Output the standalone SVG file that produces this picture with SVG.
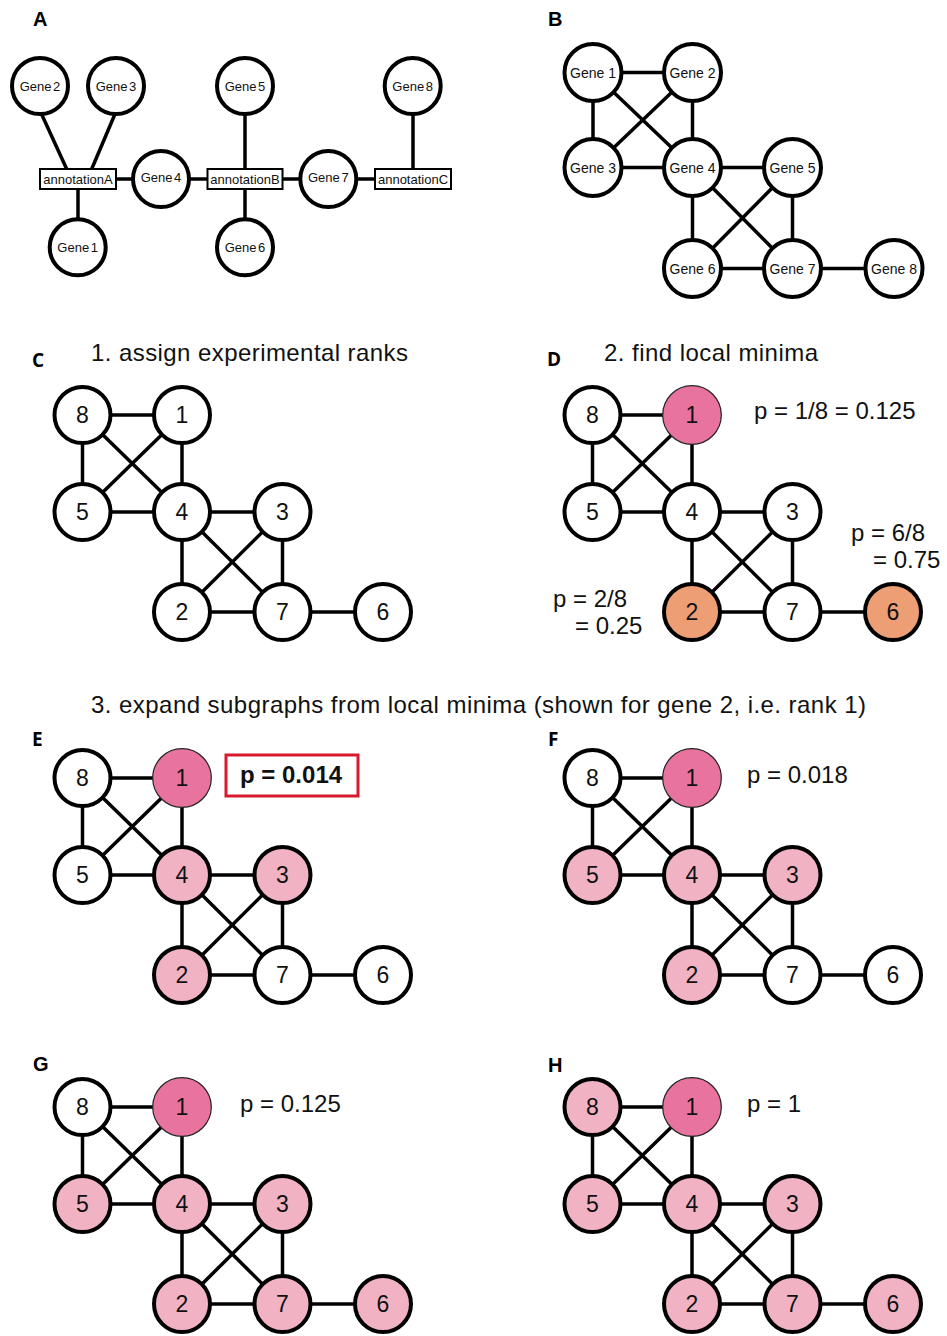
<svg xmlns="http://www.w3.org/2000/svg" width="947" height="1336" viewBox="0 0 947 1336">
<style>
.bg{fill:#fff}
.e{stroke:#000;stroke-width:3.5;fill:none}
.ea{stroke:#000;stroke-width:3.5;fill:none}
.n circle{stroke:#000;stroke-width:4;fill:#fff}
.n.lp circle{fill:#F1B3C4}
.n.or circle{fill:#ED9E75}
.n.dk circle{fill:#E8739E;stroke:#222;stroke-width:1.2}
.num{font-family:"Liberation Sans",Arial,sans-serif;font-size:23px;text-anchor:middle;fill:#111}
.ga{font-family:"Liberation Sans",Arial,sans-serif;font-size:13px;text-anchor:middle;word-spacing:-2px;fill:#111}
.gb{font-family:"Liberation Sans",Arial,sans-serif;font-size:14px;text-anchor:middle;fill:#111}
.ann rect{fill:#fff;stroke:#000;stroke-width:2}
.ann text{font-family:"Liberation Sans",Arial,sans-serif;font-size:13px;text-anchor:middle;fill:#111}
.title{font-family:"Liberation Sans",Arial,sans-serif;font-size:24px;fill:#111}
.p{font-family:"Liberation Sans",Arial,sans-serif;font-size:24px;fill:#111}
.pb{font-family:"Liberation Sans",Arial,sans-serif;font-size:24px;font-weight:bold;fill:#111}
.lab1{font-family:"Liberation Sans",Arial,sans-serif;font-size:20px;font-weight:bold;fill:#000}
.lab2{font-family:"Open Sans","Liberation Sans",sans-serif;font-size:19px;font-weight:bold;fill:#000}
</style>
<rect class="bg" x="0" y="0" width="947" height="1336"/>

<!-- Panel labels -->
<g id="labels">
<text class="lab1" x="33" y="26">A</text>
<text class="lab1" x="548" y="26">B</text>
<text class="lab2" x="32" y="367">C</text>
<text class="lab2" x="547" y="366">D</text>
<text class="lab2" x="32" y="746">E</text>
<text class="lab2" x="548" y="746">F</text>
<text class="lab1" x="33" y="1071">G</text>
<text class="lab1" x="548" y="1072">H</text>
</g>

<!-- Titles -->
<g id="titles">
<text class="title" x="91" y="361" textLength="317" lengthAdjust="spacing">1. assign experimental ranks</text>
<text class="title" x="604" y="361" textLength="214" lengthAdjust="spacing">2. find local minima</text>
<text class="title" x="91" y="713" textLength="775" lengthAdjust="spacing">3. expand subgraphs from local minima (shown for gene 2, i.e. rank 1)</text>
</g>

<!-- Panel A -->
<g id="panel-A">
<g id="A-connectors">
<line class="ea" x1="41.5" y1="114" x2="66.7" y2="169"/>
<line class="ea" x1="115" y1="114" x2="91.7" y2="169"/>
<line class="ea" x1="78" y1="189" x2="78" y2="221"/>
<line class="ea" x1="116" y1="179" x2="135" y2="179"/>
<line class="ea" x1="187" y1="179" x2="207.5" y2="179"/>
<line class="ea" x1="245" y1="112" x2="245" y2="169"/>
<line class="ea" x1="245" y1="189" x2="245" y2="221"/>
<line class="ea" x1="282.5" y1="179" x2="302" y2="179"/>
<line class="ea" x1="354" y1="179" x2="375" y2="179"/>
<line class="ea" x1="413" y1="112" x2="413" y2="169"/>
</g>
<g id="A-gene2" class="n" transform="translate(40,86)"><circle r="28"/><text class="ga" y="4.5">Gene 2</text></g>
<g id="A-gene3" class="n" transform="translate(116,86)"><circle r="28"/><text class="ga" y="4.5">Gene 3</text></g>
<g id="A-gene5" class="n" transform="translate(245,86)"><circle r="28"/><text class="ga" y="4.5">Gene 5</text></g>
<g id="A-gene8" class="n" transform="translate(412.7,86)"><circle r="28"/><text class="ga" y="4.5">Gene 8</text></g>
<g id="A-gene4" class="n" transform="translate(161,179)"><circle r="28"/><text class="ga" y="2.5">Gene 4</text></g>
<g id="A-gene7" class="n" transform="translate(328.3,179)"><circle r="28"/><text class="ga" y="2.5">Gene 7</text></g>
<g id="A-gene1" class="n" transform="translate(77.7,247.3)"><circle r="28"/><text class="ga" y="4.5">Gene 1</text></g>
<g id="A-gene6" class="n" transform="translate(245,247.3)"><circle r="28"/><text class="ga" y="4.5">Gene 6</text></g>
<g id="A-annotationA" class="ann"><rect x="40" y="169" width="76" height="20"/><text x="78" y="183.5">annotationA</text></g>
<g id="A-annotationB" class="ann"><rect x="207.5" y="169" width="75" height="20"/><text x="245" y="183.5">annotationB</text></g>
<g id="A-annotationC" class="ann"><rect x="375" y="169" width="76" height="20"/><text x="413" y="183.5">annotationC</text></g>
</g>

<!-- Panel B -->
<g id="panel-B">
<g id="B-connectors">
<line class="e" x1="593" y1="72.5" x2="692.5" y2="72.5"/>
<line class="e" x1="593" y1="72.5" x2="593" y2="167.5"/>
<line class="e" x1="593" y1="72.5" x2="692.5" y2="167.5"/>
<line class="e" x1="692.5" y1="72.5" x2="593" y2="167.5"/>
<line class="e" x1="692.5" y1="72.5" x2="692.5" y2="167.5"/>
<line class="e" x1="593" y1="167.5" x2="692.5" y2="167.5"/>
<line class="e" x1="692.5" y1="167.5" x2="792.5" y2="167.5"/>
<line class="e" x1="692.5" y1="167.5" x2="692.5" y2="268.5"/>
<line class="e" x1="692.5" y1="167.5" x2="792.5" y2="268.5"/>
<line class="e" x1="792.5" y1="167.5" x2="692.5" y2="268.5"/>
<line class="e" x1="792.5" y1="167.5" x2="792.5" y2="268.5"/>
<line class="e" x1="692.5" y1="268.5" x2="792.5" y2="268.5"/>
<line class="e" x1="792.5" y1="268.5" x2="894" y2="268.5"/>
</g>
<g id="B-gene1" class="n" transform="translate(593,72.5)"><circle r="28.5"/><text class="gb" y="5">Gene 1</text></g>
<g id="B-gene2" class="n" transform="translate(692.5,72.5)"><circle r="28.5"/><text class="gb" y="5">Gene 2</text></g>
<g id="B-gene3" class="n" transform="translate(593,167.5)"><circle r="28.5"/><text class="gb" y="5">Gene 3</text></g>
<g id="B-gene4" class="n" transform="translate(692.5,167.5)"><circle r="28.5"/><text class="gb" y="5">Gene 4</text></g>
<g id="B-gene5" class="n" transform="translate(792.5,167.5)"><circle r="28.5"/><text class="gb" y="5">Gene 5</text></g>
<g id="B-gene6" class="n" transform="translate(692.5,268.5)"><circle r="28.5"/><text class="gb" y="5">Gene 6</text></g>
<g id="B-gene7" class="n" transform="translate(792.5,268.5)"><circle r="28.5"/><text class="gb" y="5">Gene 7</text></g>
<g id="B-gene8" class="n" transform="translate(894,268.5)"><circle r="28.5"/><text class="gb" y="5">Gene 8</text></g>
</g>

<!-- Panel C -->
<g id="panel-C">
<g id="C-connectors" transform="translate(82.5,415)">
<line class="e" x1="0" y1="0" x2="99.5" y2="0"/><line class="e" x1="0" y1="0" x2="0" y2="97"/><line class="e" x1="0" y1="0" x2="99.5" y2="97"/><line class="e" x1="99.5" y1="0" x2="0" y2="97"/><line class="e" x1="99.5" y1="0" x2="99.5" y2="97"/><line class="e" x1="0" y1="97" x2="99.5" y2="97"/><line class="e" x1="99.5" y1="97" x2="200" y2="97"/><line class="e" x1="99.5" y1="97" x2="99.5" y2="197"/><line class="e" x1="99.5" y1="97" x2="200" y2="197"/><line class="e" x1="200" y1="97" x2="99.5" y2="197"/><line class="e" x1="200" y1="97" x2="200" y2="197"/><line class="e" x1="99.5" y1="197" x2="200" y2="197"/><line class="e" x1="200" y1="197" x2="300.5" y2="197"/>
</g>
<g id="C-n8" class="n" transform="translate(82.5,415)"><circle r="28"/><text class="num" y="8">8</text></g>
<g id="C-n1" class="n" transform="translate(182,415)"><circle r="28"/><text class="num" y="8">1</text></g>
<g id="C-n5" class="n" transform="translate(82.5,512)"><circle r="28"/><text class="num" y="8">5</text></g>
<g id="C-n4" class="n" transform="translate(182,512)"><circle r="28"/><text class="num" y="8">4</text></g>
<g id="C-n3" class="n" transform="translate(282.5,512)"><circle r="28"/><text class="num" y="8">3</text></g>
<g id="C-n2" class="n" transform="translate(182,612)"><circle r="28"/><text class="num" y="8">2</text></g>
<g id="C-n7" class="n" transform="translate(282.5,612)"><circle r="28"/><text class="num" y="8">7</text></g>
<g id="C-n6" class="n" transform="translate(383,612)"><circle r="28"/><text class="num" y="8">6</text></g>
</g>

<!-- Panel D -->
<g id="panel-D">
<g id="D-connectors" transform="translate(592.5,415)">
<line class="e" x1="0" y1="0" x2="99.5" y2="0"/><line class="e" x1="0" y1="0" x2="0" y2="97"/><line class="e" x1="0" y1="0" x2="99.5" y2="97"/><line class="e" x1="99.5" y1="0" x2="0" y2="97"/><line class="e" x1="99.5" y1="0" x2="99.5" y2="97"/><line class="e" x1="0" y1="97" x2="99.5" y2="97"/><line class="e" x1="99.5" y1="97" x2="200" y2="97"/><line class="e" x1="99.5" y1="97" x2="99.5" y2="197"/><line class="e" x1="99.5" y1="97" x2="200" y2="197"/><line class="e" x1="200" y1="97" x2="99.5" y2="197"/><line class="e" x1="200" y1="97" x2="200" y2="197"/><line class="e" x1="99.5" y1="197" x2="200" y2="197"/><line class="e" x1="200" y1="197" x2="300.5" y2="197"/>
</g>
<g id="D-n8" class="n" transform="translate(592.5,415)"><circle r="28"/><text class="num" y="8">8</text></g>
<g id="D-n1" class="n dk" transform="translate(692,415)"><circle r="29.3"/><text class="num" y="8">1</text></g>
<g id="D-n5" class="n" transform="translate(592.5,512)"><circle r="28"/><text class="num" y="8">5</text></g>
<g id="D-n4" class="n" transform="translate(692,512)"><circle r="28"/><text class="num" y="8">4</text></g>
<g id="D-n3" class="n" transform="translate(792.5,512)"><circle r="28"/><text class="num" y="8">3</text></g>
<g id="D-n2" class="n or" transform="translate(692,612)"><circle r="28"/><text class="num" y="8">2</text></g>
<g id="D-n7" class="n" transform="translate(792.5,612)"><circle r="28"/><text class="num" y="8">7</text></g>
<g id="D-n6" class="n or" transform="translate(893,612)"><circle r="28"/><text class="num" y="8">6</text></g>
<text class="p" x="754" y="419">p = 1/8 = 0.125</text>
<text class="p" x="851" y="541">p = 6/8</text>
<text class="p" x="873" y="568">= 0.75</text>
<text class="p" x="553" y="607">p = 2/8</text>
<text class="p" x="575" y="634">= 0.25</text>
</g>

<!-- Panel E -->
<g id="panel-E">
<g id="E-connectors" transform="translate(82.5,778)">
<line class="e" x1="0" y1="0" x2="99.5" y2="0"/><line class="e" x1="0" y1="0" x2="0" y2="97"/><line class="e" x1="0" y1="0" x2="99.5" y2="97"/><line class="e" x1="99.5" y1="0" x2="0" y2="97"/><line class="e" x1="99.5" y1="0" x2="99.5" y2="97"/><line class="e" x1="0" y1="97" x2="99.5" y2="97"/><line class="e" x1="99.5" y1="97" x2="200" y2="97"/><line class="e" x1="99.5" y1="97" x2="99.5" y2="197"/><line class="e" x1="99.5" y1="97" x2="200" y2="197"/><line class="e" x1="200" y1="97" x2="99.5" y2="197"/><line class="e" x1="200" y1="97" x2="200" y2="197"/><line class="e" x1="99.5" y1="197" x2="200" y2="197"/><line class="e" x1="200" y1="197" x2="300.5" y2="197"/>
</g>
<g id="E-n8" class="n" transform="translate(82.5,778)"><circle r="28"/><text class="num" y="8">8</text></g>
<g id="E-n1" class="n dk" transform="translate(182,778)"><circle r="29.3"/><text class="num" y="8">1</text></g>
<g id="E-n5" class="n" transform="translate(82.5,875)"><circle r="28"/><text class="num" y="8">5</text></g>
<g id="E-n4" class="n lp" transform="translate(182,875)"><circle r="28"/><text class="num" y="8">4</text></g>
<g id="E-n3" class="n lp" transform="translate(282.5,875)"><circle r="28"/><text class="num" y="8">3</text></g>
<g id="E-n2" class="n lp" transform="translate(182,975)"><circle r="28"/><text class="num" y="8">2</text></g>
<g id="E-n7" class="n" transform="translate(282.5,975)"><circle r="28"/><text class="num" y="8">7</text></g>
<g id="E-n6" class="n" transform="translate(383,975)"><circle r="28"/><text class="num" y="8">6</text></g>
<rect x="226" y="755" width="132" height="41" fill="#fff" stroke="#D8192E" stroke-width="3"/>
<text class="pb" x="240" y="783">p = 0.014</text>
</g>

<!-- Panel F -->
<g id="panel-F">
<g id="F-connectors" transform="translate(592.5,778)">
<line class="e" x1="0" y1="0" x2="99.5" y2="0"/><line class="e" x1="0" y1="0" x2="0" y2="97"/><line class="e" x1="0" y1="0" x2="99.5" y2="97"/><line class="e" x1="99.5" y1="0" x2="0" y2="97"/><line class="e" x1="99.5" y1="0" x2="99.5" y2="97"/><line class="e" x1="0" y1="97" x2="99.5" y2="97"/><line class="e" x1="99.5" y1="97" x2="200" y2="97"/><line class="e" x1="99.5" y1="97" x2="99.5" y2="197"/><line class="e" x1="99.5" y1="97" x2="200" y2="197"/><line class="e" x1="200" y1="97" x2="99.5" y2="197"/><line class="e" x1="200" y1="97" x2="200" y2="197"/><line class="e" x1="99.5" y1="197" x2="200" y2="197"/><line class="e" x1="200" y1="197" x2="300.5" y2="197"/>
</g>
<g id="F-n8" class="n" transform="translate(592.5,778)"><circle r="28"/><text class="num" y="8">8</text></g>
<g id="F-n1" class="n dk" transform="translate(692,778)"><circle r="29.3"/><text class="num" y="8">1</text></g>
<g id="F-n5" class="n lp" transform="translate(592.5,875)"><circle r="28"/><text class="num" y="8">5</text></g>
<g id="F-n4" class="n lp" transform="translate(692,875)"><circle r="28"/><text class="num" y="8">4</text></g>
<g id="F-n3" class="n lp" transform="translate(792.5,875)"><circle r="28"/><text class="num" y="8">3</text></g>
<g id="F-n2" class="n lp" transform="translate(692,975)"><circle r="28"/><text class="num" y="8">2</text></g>
<g id="F-n7" class="n" transform="translate(792.5,975)"><circle r="28"/><text class="num" y="8">7</text></g>
<g id="F-n6" class="n" transform="translate(893,975)"><circle r="28"/><text class="num" y="8">6</text></g>
<text class="p" x="747" y="783">p = 0.018</text>
</g>

<!-- Panel G -->
<g id="panel-G">
<g id="G-connectors" transform="translate(82.5,1107)">
<line class="e" x1="0" y1="0" x2="99.5" y2="0"/><line class="e" x1="0" y1="0" x2="0" y2="97"/><line class="e" x1="0" y1="0" x2="99.5" y2="97"/><line class="e" x1="99.5" y1="0" x2="0" y2="97"/><line class="e" x1="99.5" y1="0" x2="99.5" y2="97"/><line class="e" x1="0" y1="97" x2="99.5" y2="97"/><line class="e" x1="99.5" y1="97" x2="200" y2="97"/><line class="e" x1="99.5" y1="97" x2="99.5" y2="197"/><line class="e" x1="99.5" y1="97" x2="200" y2="197"/><line class="e" x1="200" y1="97" x2="99.5" y2="197"/><line class="e" x1="200" y1="97" x2="200" y2="197"/><line class="e" x1="99.5" y1="197" x2="200" y2="197"/><line class="e" x1="200" y1="197" x2="300.5" y2="197"/>
</g>
<g id="G-n8" class="n" transform="translate(82.5,1107)"><circle r="28"/><text class="num" y="8">8</text></g>
<g id="G-n1" class="n dk" transform="translate(182,1107)"><circle r="29.3"/><text class="num" y="8">1</text></g>
<g id="G-n5" class="n lp" transform="translate(82.5,1204)"><circle r="28"/><text class="num" y="8">5</text></g>
<g id="G-n4" class="n lp" transform="translate(182,1204)"><circle r="28"/><text class="num" y="8">4</text></g>
<g id="G-n3" class="n lp" transform="translate(282.5,1204)"><circle r="28"/><text class="num" y="8">3</text></g>
<g id="G-n2" class="n lp" transform="translate(182,1304)"><circle r="28"/><text class="num" y="8">2</text></g>
<g id="G-n7" class="n lp" transform="translate(282.5,1304)"><circle r="28"/><text class="num" y="8">7</text></g>
<g id="G-n6" class="n lp" transform="translate(383,1304)"><circle r="28"/><text class="num" y="8">6</text></g>
<text class="p" x="240" y="1112">p = 0.125</text>
</g>

<!-- Panel H -->
<g id="panel-H">
<g id="H-connectors" transform="translate(592.5,1107)">
<line class="e" x1="0" y1="0" x2="99.5" y2="0"/><line class="e" x1="0" y1="0" x2="0" y2="97"/><line class="e" x1="0" y1="0" x2="99.5" y2="97"/><line class="e" x1="99.5" y1="0" x2="0" y2="97"/><line class="e" x1="99.5" y1="0" x2="99.5" y2="97"/><line class="e" x1="0" y1="97" x2="99.5" y2="97"/><line class="e" x1="99.5" y1="97" x2="200" y2="97"/><line class="e" x1="99.5" y1="97" x2="99.5" y2="197"/><line class="e" x1="99.5" y1="97" x2="200" y2="197"/><line class="e" x1="200" y1="97" x2="99.5" y2="197"/><line class="e" x1="200" y1="97" x2="200" y2="197"/><line class="e" x1="99.5" y1="197" x2="200" y2="197"/><line class="e" x1="200" y1="197" x2="300.5" y2="197"/>
</g>
<g id="H-n8" class="n lp" transform="translate(592.5,1107)"><circle r="28"/><text class="num" y="8">8</text></g>
<g id="H-n1" class="n dk" transform="translate(692,1107)"><circle r="29.3"/><text class="num" y="8">1</text></g>
<g id="H-n5" class="n lp" transform="translate(592.5,1204)"><circle r="28"/><text class="num" y="8">5</text></g>
<g id="H-n4" class="n lp" transform="translate(692,1204)"><circle r="28"/><text class="num" y="8">4</text></g>
<g id="H-n3" class="n lp" transform="translate(792.5,1204)"><circle r="28"/><text class="num" y="8">3</text></g>
<g id="H-n2" class="n lp" transform="translate(692,1304)"><circle r="28"/><text class="num" y="8">2</text></g>
<g id="H-n7" class="n lp" transform="translate(792.5,1304)"><circle r="28"/><text class="num" y="8">7</text></g>
<g id="H-n6" class="n lp" transform="translate(893,1304)"><circle r="28"/><text class="num" y="8">6</text></g>
<text class="p" x="747" y="1112">p = 1</text>
</g>
</svg>
